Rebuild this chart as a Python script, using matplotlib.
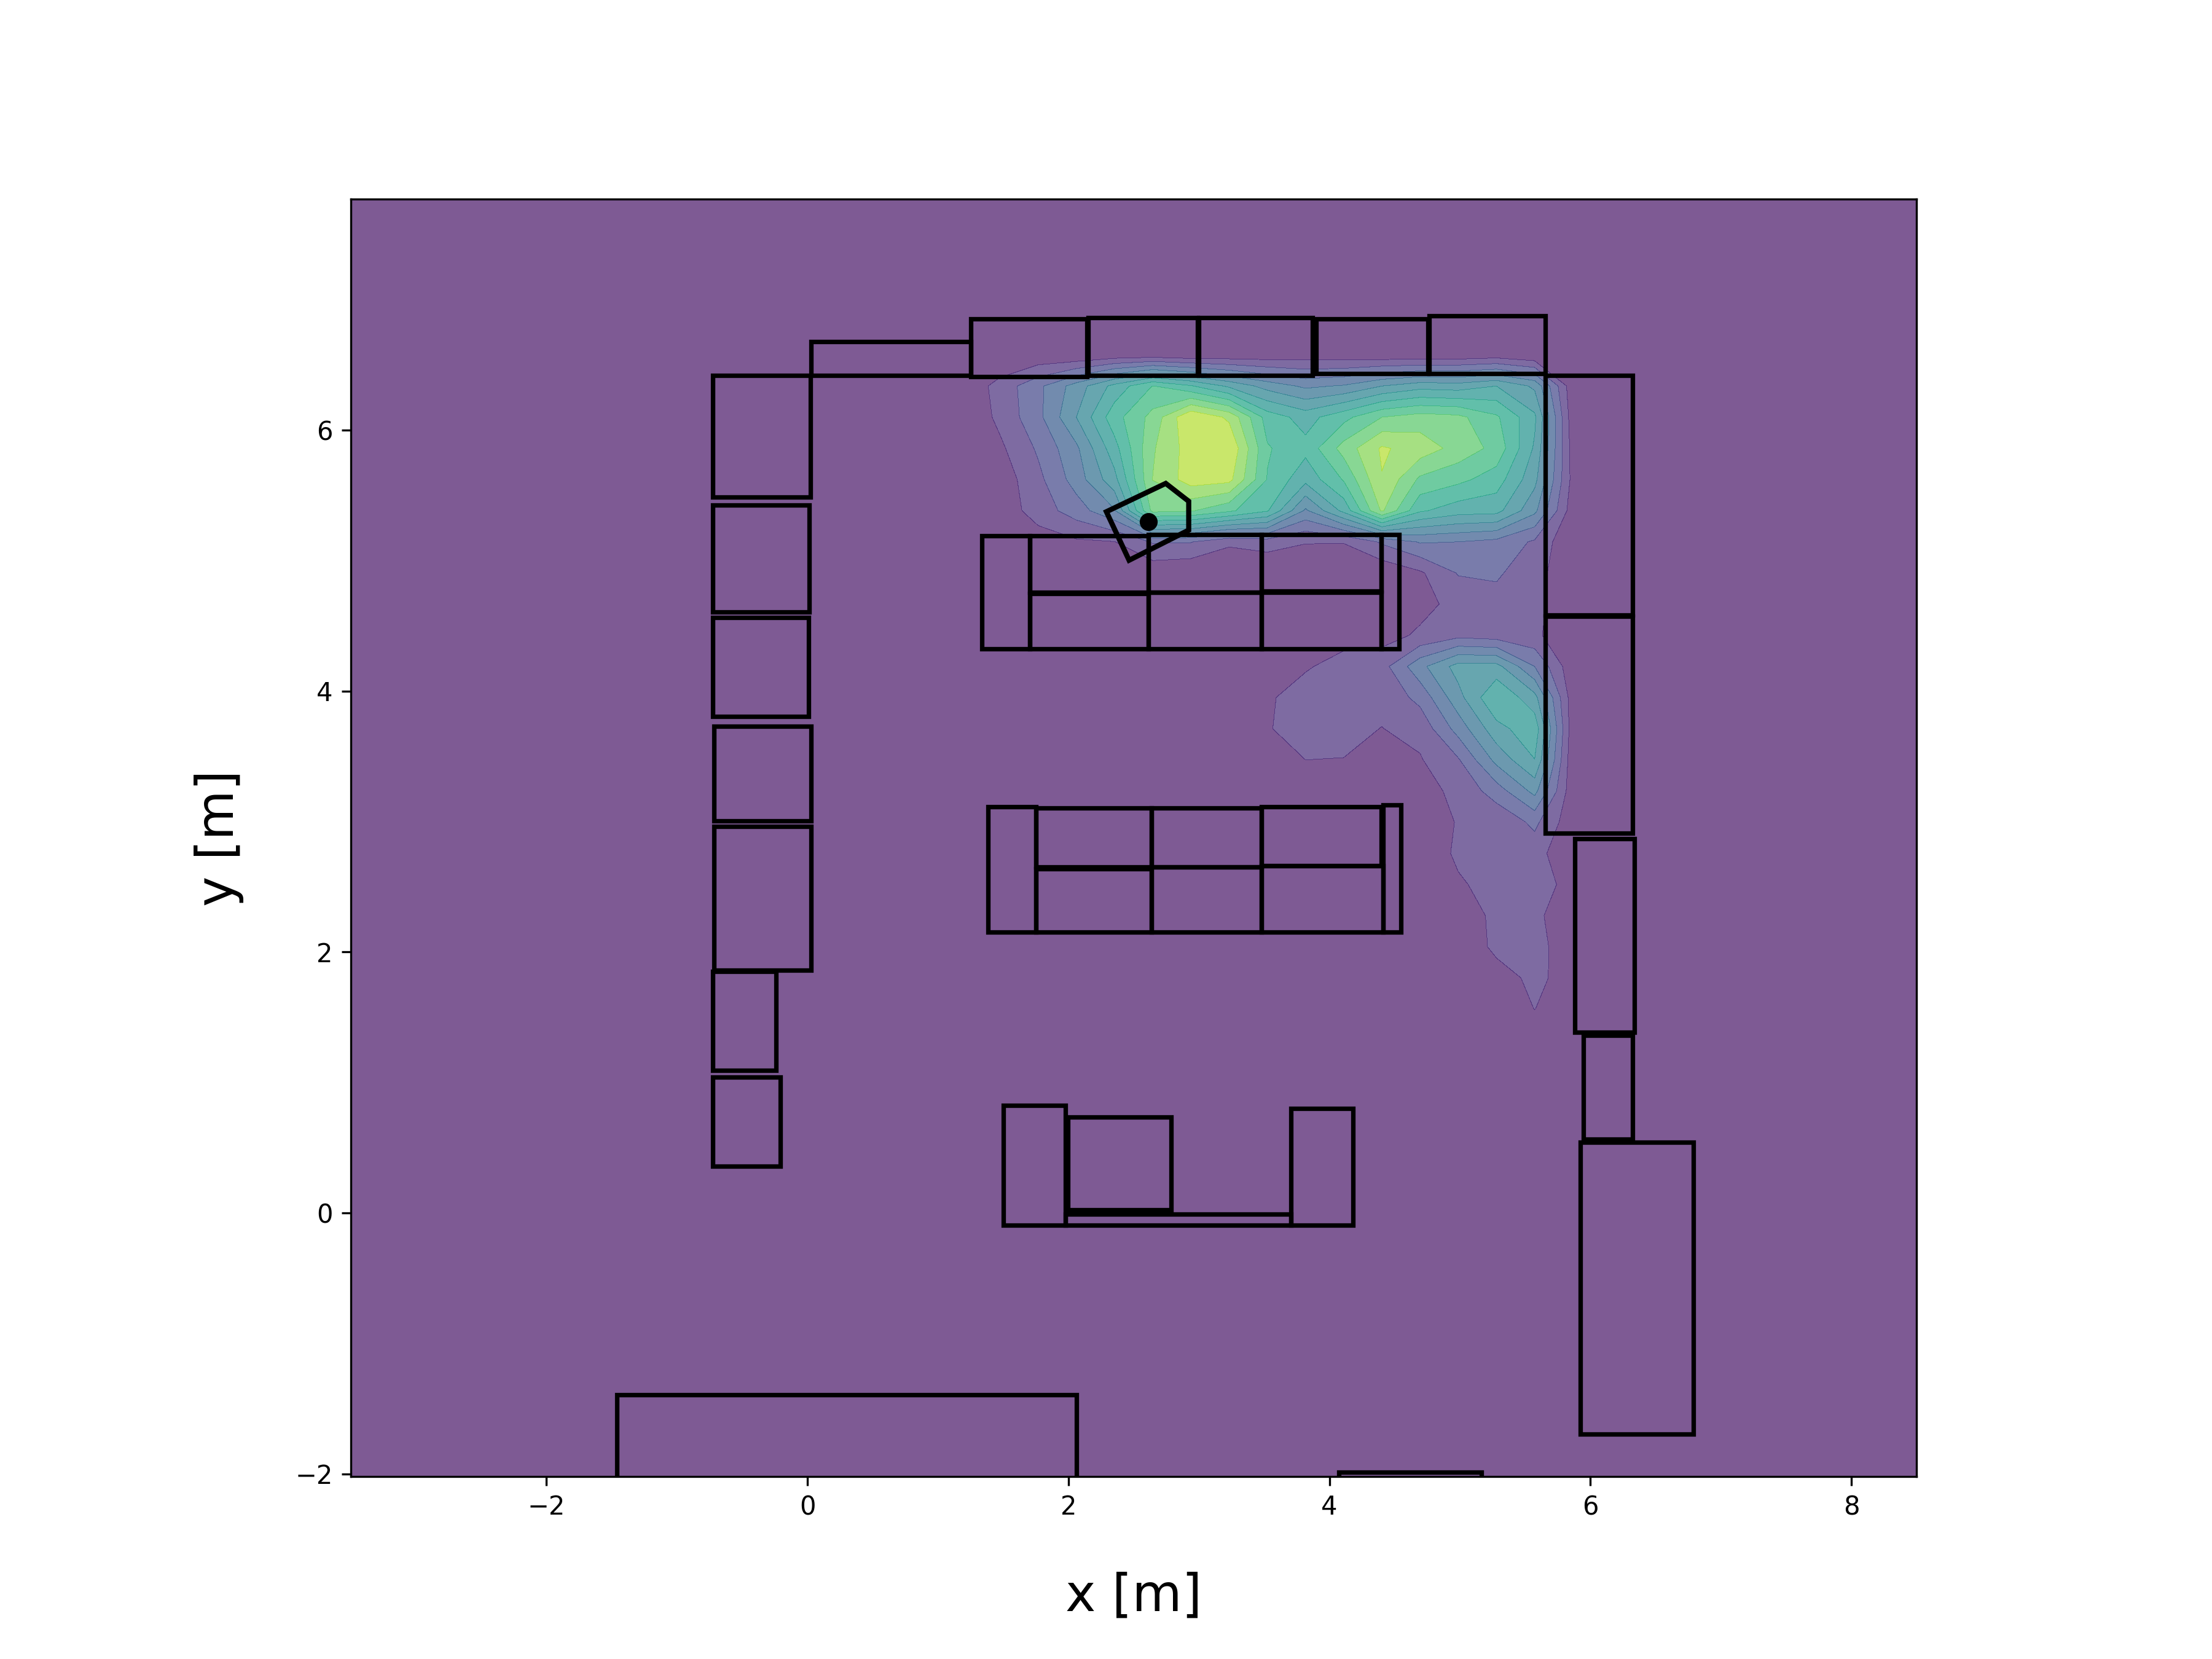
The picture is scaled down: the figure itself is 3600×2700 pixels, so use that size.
import numpy as np
import matplotlib
matplotlib.use("Agg")
import matplotlib.pyplot as plt
from matplotlib.patches import Rectangle, Polygon
from matplotlib.colors import Normalize

# axis / grid extents
x_range = (-3.5, 8.5)
y_range = (-2.02, 7.77)
grid_n = 42

# density values, per grid row (row index -> values from column 16 up to 33)
first_col = 16
density_rows = {
    37: [0]*18,
    36: [0, 0, .18, .08, .34, .4, .2, .3, .35, .47, .4, .3, .25, .3, .45, .12, 0, 0],
    35: [.15, 1.38, 2.75, 4.46, 6.34, 8.03, 7.1, 5.8, 4.6, 3.8, 4.1, 5.0, 5.6, 5.48, 6.0, 4.8, .25, 0],
    34: [0, 1.26, 2.71, 5.0, 7.6, 9.35, 11.95, 10.8, 7.55, 6.6, 7.68, 9.0, 9.45, 9.26, 8.16, 6.2, .35, 0],
    33: [0, .8, 2.15, 3.8, 6.62, 9.88, 11.48, 11.92, 8.1, 7.3, 9.4, 11.13, 10.57, 9.63, 8.69, 5.85, .55, 0],
    32: [0, .4, 1.73, 3.45, 5.68, 10.02, 11.5, 11.3, 7.95, 6.3, 8.09, 10.95, 8.8, 8.27, 7.5, 5.3, .65, 0],
    31: [0, .38, 1.46, 2.5, 3.9, 9.3, 9.1, 8.2, 7.1, 3.82, 6.3, 10.15, 7.15, 6.45, 6.35, 4.25, .4, 0],
    30: [0, .1, .5, .85, .98, 2.1, 2.05, 1.2, 1.5, 1.05, 1.05, 2.15, 3.1, 3.0, 2.7, 1.85, .05, 0],
    29: [0, 0, .1, .4, .3, .27, .1, 0, 0, .3, .1, .2, .85, 2.07, 2.12, 1.5, 0, 0],
    28: [0, 0, 0, 0, 0, .05, .05, 0, 0, 0, .1, .3, .7, 1.3, 1.7, 1.3, .3, 0],
    27: [0, 0, 0, 0, 0, 0, 0, 0, .2, .5, .75, .63, 1.15, 1.7, 1.5, 1.25, 0, 0],
    26: [0, 0, 0, 0, 0, 0, 0, .2, .5, .93, 1.25, 1.6, 3.7, 5.4, 5.35, 3.0, .26, 0],
    25: [0, 0, 0, 0, 0, 0, 0, .3, .91, 1.3, 1.4, 1.25, 2.3, 4.65, 6.95, 5.35, .39, 0],
    24: [0, 0, 0, 0, 0, 0, 0, .3, .95, 1.3, 1.25, .98, 1.3, 3.4, 5.65, 6.65, .37, 0],
    23: [0, 0, 0, 0, 0, 0, 0, 0, .5, 1.0, .98, .6, .92, 1.9, 4.3, 5.98, .25, 0],
    22: [0, 0, 0, 0, 0, 0, 0, 0, .1, .3, .4, .3, .7, 1.2, 2.5, 4.3, .3, 0],
    21: [0, 0, 0, 0, 0, 0, 0, 0, 0, 0, 0, .1, .55, 1.05, 1.2, 2.24, .3, 0],
    20: [0, 0, 0, 0, 0, 0, 0, 0, 0, 0, 0, .1, .6, 1.1, 1.2, 1.45, .04, 0],
    19: [0, 0, 0, 0, 0, 0, 0, 0, 0, 0, 0, 0, .5, .93, 1.2, 1.35, .74, 0],
    18: [0, 0, 0, 0, 0, 0, 0, 0, 0, 0, 0, 0, .3, .63, 1.15, 1.3, .08, 0],
    17: [0, 0, 0, 0, 0, 0, 0, 0, 0, 0, 0, 0, .2, .67, 1.1, 1.25, .57, 0],
    16: [0, 0, 0, 0, 0, 0, 0, 0, 0, 0, 0, 0, 0, .2, .82, 1.1, .82, 0],
    15: [0, 0, 0, 0, 0, 0, 0, 0, 0, 0, 0, 0, 0, 0, .5, 1.01, .5, 0],
    14: [0, 0, 0, 0, 0, 0, 0, 0, 0, 0, 0, 0, 0, 0, 0, .3, 0, 0],
}
contour_levels = list(range(0, 14))

# furniture footprints: (x_left, x_right, y_bottom, y_top) in metres
wall_left = [
    (-.725, .021, 5.487, 6.420), (-.725, .015, 4.605, 5.427), (-.725, .010, 3.805, 4.562),
    (-.715, .030, 3.006, 3.730), (-.715, .030, 1.860, 2.963), (-.725, -.240, 1.093, 1.850),
    (-.725, -.207, .359, 1.039),
]
wall_top = [
    (.030, 1.252, 6.420, 6.679), (1.252, 2.140, 6.409, 6.852), (2.150, 2.992, 6.420, 6.863),
    (3.0, 3.870, 6.420, 6.863), (3.900, 4.757, 6.431, 6.852), (4.767, 5.653, 6.431, 6.874),
]
wall_right = [
    (5.653, 6.325, 4.584, 6.420), (5.653, 6.325, 2.909, 4.573), (5.880, 6.336, 1.385, 2.866),
    (5.946, 6.325, .564, 1.363), (5.925, 6.790, -1.694, .542),
]
shelf_upper = [
    (1.338, 1.705, 4.324, 5.189), (1.705, 2.612, 4.756, 5.189), (2.612, 3.480, 4.756, 5.200),
    (3.480, 4.398, 4.767, 5.200), (1.705, 2.612, 4.324, 4.745), (2.612, 3.480, 4.324, 4.756),
    (3.480, 4.398, 4.324, 4.756), (4.398, 4.536, 4.324, 5.200),
]
shelf_lower = [
    (1.382, 1.750, 2.152, 3.114), (1.750, 2.635, 2.649, 3.103), (2.635, 3.480, 2.649, 3.103),
    (3.480, 4.398, 2.660, 3.114), (1.750, 2.635, 2.152, 2.638), (2.635, 3.480, 2.152, 2.649),
    (3.480, 4.410, 2.152, 2.660), (4.410, 4.547, 2.152, 3.125),
]
table_group = [
    (1.500, 1.977, -.095, .823), (1.998, 2.788, .024, .737), (1.977, 3.707, -.095, -.009),
    (3.707, 4.183, -.095, .802),
]
bottom_items = [(-1.462, 2.063, -2.5, -1.392), (4.075, 5.167, -2.5, -1.986)]

robot_x = [2.291, 2.746, 2.922, 2.922, 2.465]
robot_y = [5.374, 5.591, 5.454, 5.233, 5.002]
robot_center = (2.611, 5.30)

X = np.linspace(*x_range, grid_n)
Y = np.linspace(*y_range, grid_n)
Z = np.zeros((grid_n, grid_n))
for row, vals in density_rows.items():
    Z[row, first_col:first_col + len(vals)] = vals

fig, ax = plt.subplots(figsize=(12, 9), dpi=300)
ax.contourf(X, Y, Z, levels=contour_levels, cmap="viridis",
            norm=Normalize(vmin=-0.2, vmax=13.0), alpha=0.7)

for group in (wall_left, wall_top, wall_right, shelf_upper, shelf_lower, table_group, bottom_items):
    for x0, x1, y0, y1 in group:
        ax.add_patch(Rectangle((x0, y0), x1 - x0, y1 - y0, fill=False, edgecolor="k", linewidth=1.75))
ax.add_patch(Polygon(np.column_stack([robot_x, robot_y]), closed=True, fill=False, edgecolor="k", linewidth=2))
ax.plot([robot_center[0]], [robot_center[1]], "o", color="k", markersize=6)

ax.set_xlim(*x_range)
ax.set_ylim(*y_range)
ax.set_aspect("equal")
ax.set_xlabel("x [m]", fontsize=20, labelpad=20)
ax.set_ylabel("y [m]", fontsize=20, labelpad=20)
fig.savefig("out.png", dpi=300)
